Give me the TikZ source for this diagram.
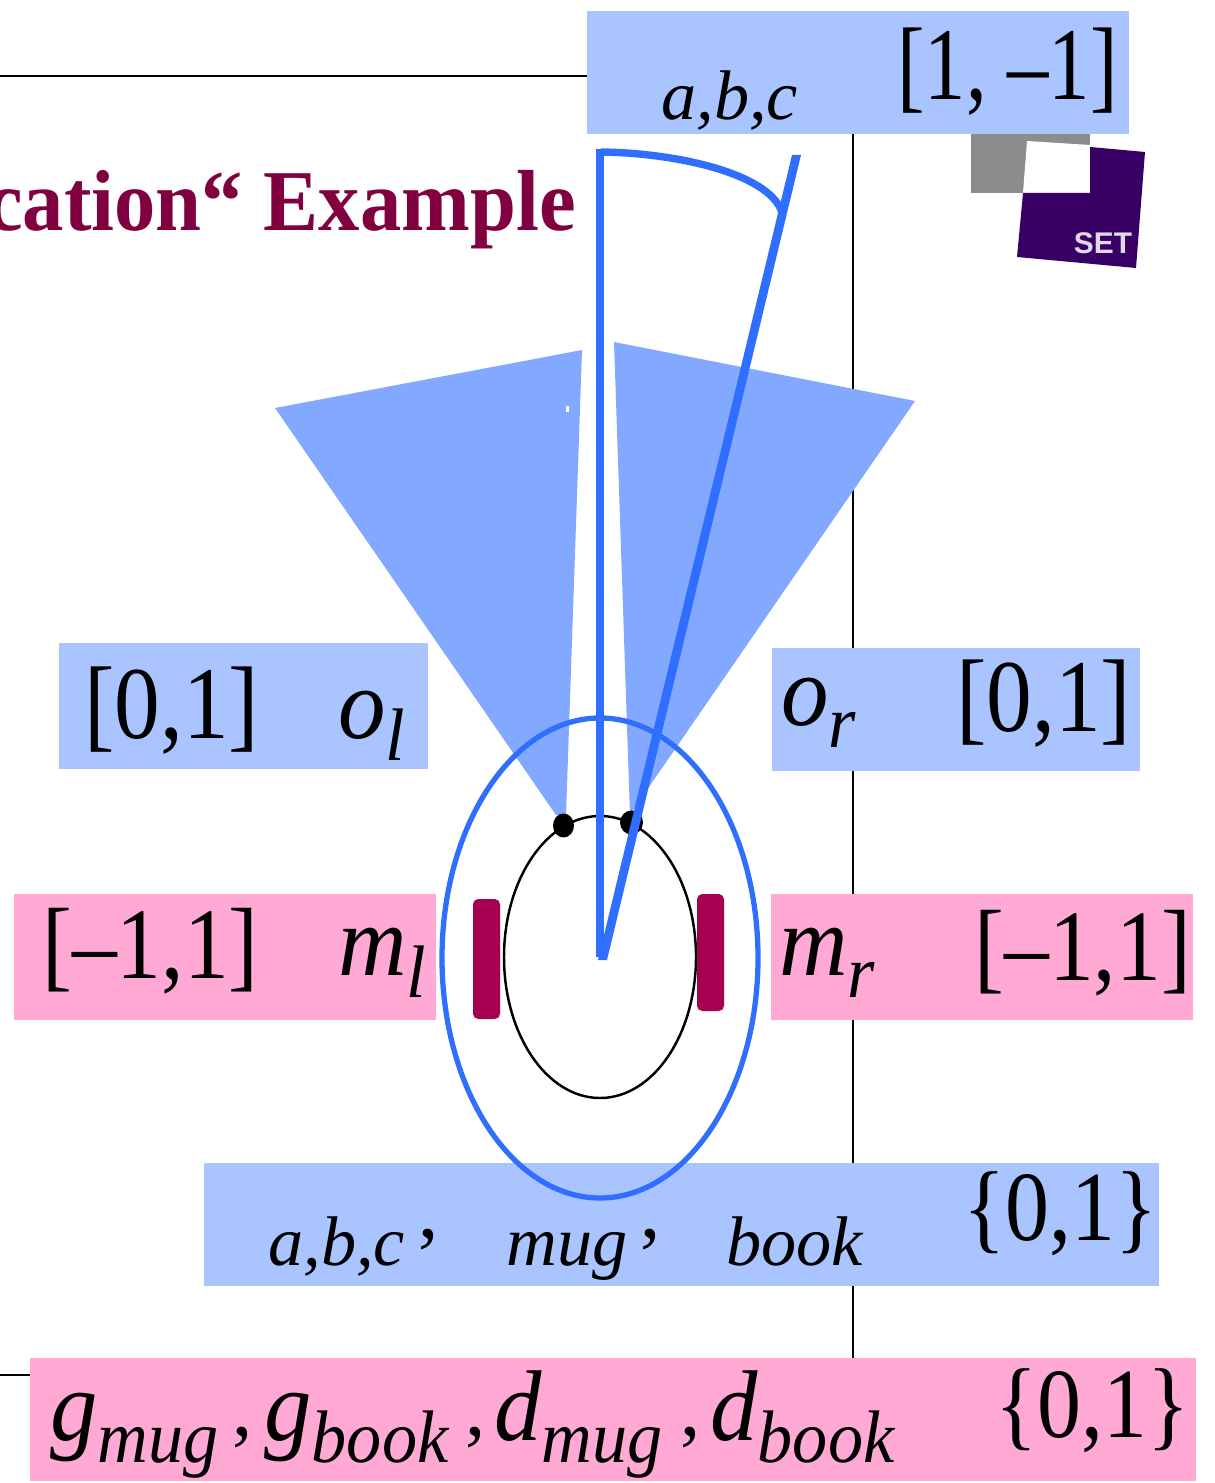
\documentclass[tikz,border=0pt]{standalone}
\usepackage{fontspec}
\setmainfont{Liberation Serif}
\setsansfont{Liberation Sans}
\usepackage{graphicx}

\definecolor{sensorbox}{HTML}{A9C4FF}
\definecolor{motorbox}{HTML}{FFA9D4}
\definecolor{conefill}{HTML}{82A8FF}
\definecolor{bodyblue}{HTML}{2F6EFF}
\definecolor{wheelred}{HTML}{A80050}
\definecolor{titlered}{HTML}{800040}
\definecolor{logopurple}{HTML}{380064}
\definecolor{logogray}{HTML}{8C8C8C}

% stretched text, taller than wide
\newcommand{\tallA}[1]{\scalebox{1}[1.06]{#1}}
\newcommand{\tallB}[1]{\scalebox{1}[1.13]{#1}}
\newcommand{\tallC}[1]{\scalebox{1}[1.25]{#1}}
\newcommand{\lowpart}[1]{\raisebox{-0.22em}{\scalebox{0.74}{#1}}}

\begin{document}
\begin{tikzpicture}[x=0.02cm,y=-0.02cm]

% --- Global TikZ Styles ---
\tikzset{
    sensorarea/.style={
        fill=sensorbox
    },
    motorarea/.style={
        fill=motorbox
    },
    rule/.style={
        draw=black,
        line width=1.4pt
    },
    cone/.style={
        fill=conefill
    },
    bluestroke/.style={
        draw=bodyblue,
        line width=4.2pt
    },
    wheel/.style={
        fill=wheelred,
        rounded corners=3pt
    },
    varlabel/.style={
        anchor=base west,
        inner sep=0pt,
        font=\fontsize{54}{54}\selectfont\itshape
    },
    smalllabel/.style={
        anchor=base west,
        inner sep=0pt,
        font=\fontsize{40}{40}\selectfont\itshape
    },
    commalabel/.style={
        anchor=base west,
        inner sep=0pt,
        font=\fontsize{46}{46}\selectfont
    },
    rangelabel/.style={
        anchor=base west,
        inner sep=0pt,
        font=\fontsize{52}{52}\selectfont
    },
    setlabel/.style={
        anchor=base west,
        inner sep=0pt,
        font=\fontsize{50}{50}\selectfont
    },
    titlelabel/.style={
        anchor=base east,
        inner sep=0pt,
        text=titlered,
        font=\fontsize{47}{47}\selectfont\bfseries
    }
}

\useasboundingbox (0,0) rectangle (1214,1483);

% ==================================================
% --- Slide rules and title ---
% ==================================================

\draw[rule] (0,76) -- (587,76);
\draw[rule] (0,1375) -- (30,1375);
\draw[rule] (853,134) -- (853,1358);

\node[titlelabel] (title) at (576,231) {\scalebox{1}[1.05]{cation“ Example}};

% ==================================================
% --- Logo ---
% ==================================================

\fill[logogray] (971,134) rectangle (1090,193);
\fill[white] (1027,141) -- (1090,145) -- (1090,193) -- (1023,193) -- cycle;
\fill[logopurple] (1090,147) -- (1145,152) -- (1136,268) -- (1017,257)
    -- (1023,193) -- (1090,193) -- cycle;
\node[inner sep=0pt,text=white!85!logopurple,font=\fontsize{17}{17}\selectfont\sffamily\bfseries]
    (logo) at (1103,243) {SET};

% ==================================================
% --- Sensor cones ---
% ==================================================

\fill[cone] (275,408) -- (582,350) -- (566,815) -- (556,815) -- cycle;
\fill[cone] (614,342) -- (915,401) -- (640,800) -- (630,815) -- cycle;
\fill[white] (566,406) rectangle (569,412);

% ==================================================
% --- Value boxes ---
% ==================================================

\path[sensorarea] (587,11) rectangle (1129,134);
\path[sensorarea] (59,643) rectangle (428,769);
\path[sensorarea] (772,648) rectangle (1140,771);
\path[motorarea] (14,894) rectangle (436,1020);
\path[motorarea] (771,894) rectangle (1193,1020);
\path[sensorarea] (204,1163) rectangle (1159,1286);
\path[motorarea] (30,1358) rectangle (1196,1481);

% ==================================================
% --- Robot ---
% ==================================================

\draw[black,line width=1.4pt] (600,957) ellipse [x radius=96,y radius=141];
\fill[black] (563.5,825.5) ellipse [x radius=10.5,y radius=12];
\fill[black] (631.5,822.5) ellipse [x radius=11.5,y radius=12];
\path[wheel] (473,899) rectangle (500,1019);
\path[wheel] (697,894) rectangle (724,1011);
\draw[bluestroke,line width=3pt] (600,958) ellipse [x radius=158,y radius=240];

% Field of view wedge
\draw[bluestroke] (600,149) -- (600,957);
\fill[bodyblue] (792,155) -- (801,155) -- (607,960) -- (598,960) -- cycle;
\draw[bluestroke] (601,152) .. controls (680,153) and (775,175) .. (783,216);

% ==================================================
% --- Labels ---
% ==================================================

\node[smalllabel] (abctop) at (661,120) {a,b,c};
\node[rangelabel] (rangetop) at (897,100) {\tallC{\fontsize{47}{47}\selectfont [1, –1]}};

\node[rangelabel] (rangeol) at (84,738) {\tallB{[0,1]}};
\node[varlabel] (ol) at (338,738) {\tallA{o\lowpart{l}}};

\node[varlabel] (or) at (781,725) {\tallA{o\lowpart{r}}};
\node[rangelabel] (rangeor) at (956,731) {\tallB{[0,1]}};

\node[rangelabel] (rangeml) at (42,978) {\tallB{\fontsize{51}{51}\selectfont [–1,1]}};
\node[varlabel] (ml) at (338,975) {\tallA{m\lowpart{l}}};

\node[varlabel] (mr) at (779,975) {\tallA{m\lowpart{r}}};
\node[rangelabel] (rangemr) at (974,980) {\tallB{\fontsize{51}{51}\selectfont [–1,1]}};

\node[smalllabel] (abcobj) at (268,1265) {a,b,c};
\node[commalabel] (commaa) at (418,1237) {,};
\node[smalllabel] (mug) at (506,1265) {mug};
\node[commalabel] (commab) at (640,1237) {,};
\node[smalllabel] (book) at (726,1265) {book};
\node[setlabel] (rangeobj) at (963,1240) {\tallB{\{0,1\}}};

\node[varlabel] (gmug) at (50,1440) {\tallA{g\lowpart{mug}}};
\node[commalabel] (comma1) at (232,1435) {,};
\node[varlabel] (gbook) at (264,1440) {\tallA{g\lowpart{book}}};
\node[commalabel] (comma2) at (465,1435) {,};
\node[varlabel] (dmug) at (494,1440) {\tallA{d\lowpart{mug}}};
\node[commalabel] (comma3) at (680,1435) {,};
\node[varlabel] (dbook) at (710,1440) {\tallA{d\lowpart{book}}};
\node[setlabel] (rangebot) at (995,1437) {\tallB{\{0,1\}}};

\end{tikzpicture}
\end{document}
